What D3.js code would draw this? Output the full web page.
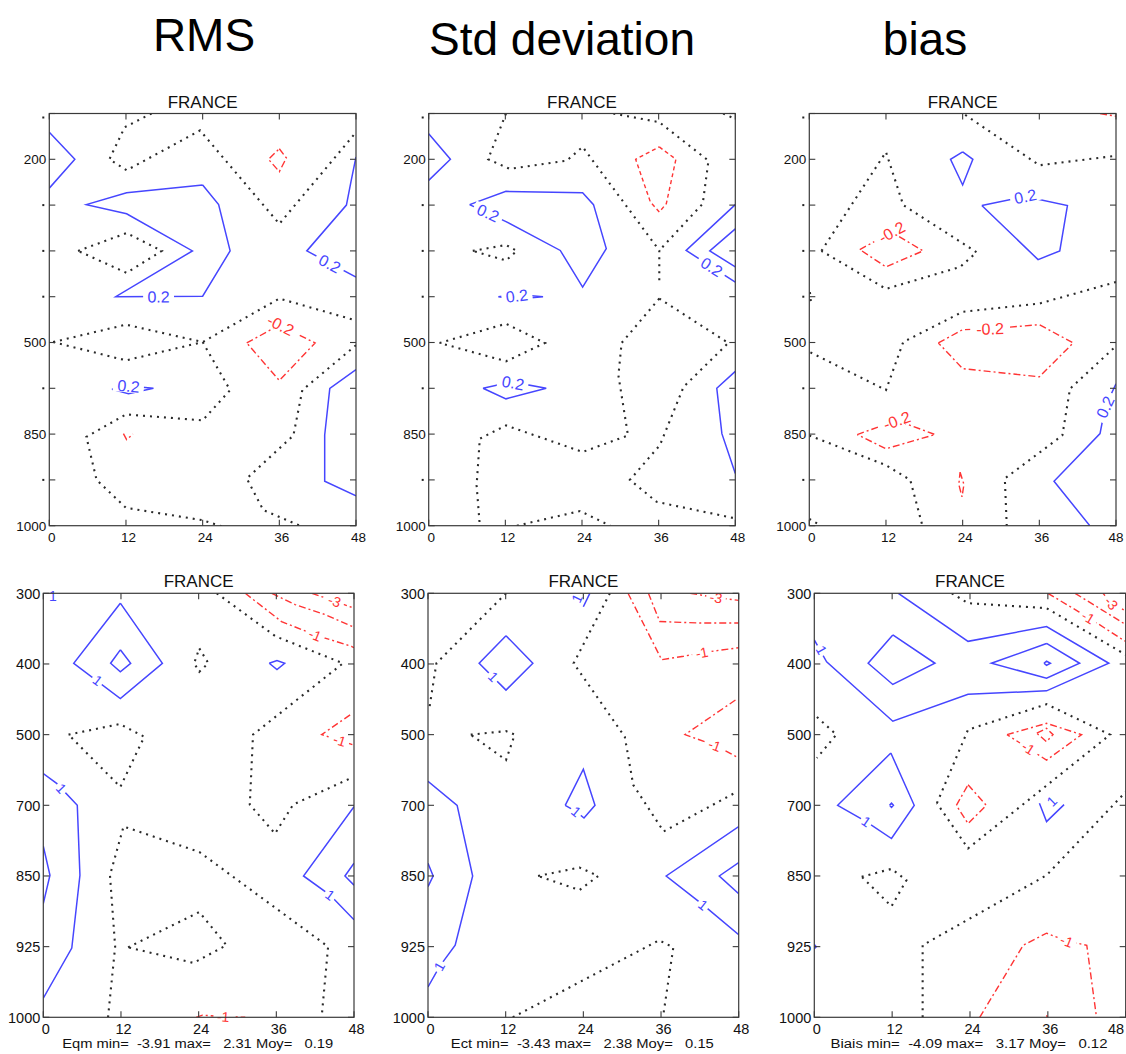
<!DOCTYPE html>
<html><head><meta charset="utf-8">
<script src="https://cdn.jsdelivr.net/npm/d3@7"></script>
<style>
body{margin:0;background:#fff}
svg{display:block}
text{font-family:"Liberation Sans",Arial,Helvetica,sans-serif}
</style>
</head><body>
<svg id="c" width="1126" height="1054"></svg>
<script>
// ---------------- DATA ----------------
// columns / titles
const columnTitles = ["RMS", "Std deviation", "bias"];
const panelTitle = "FRANCE";
const hourTicks = [0, 12, 24, 36, 48];
// upper row: 10 pressure levels (only some labelled), lower row: 7 levels
const upperTickLabels = ["", "200", "", "", "", "500", "", "850", "", "1000"];
const lowerTickLabels = ["300", "400", "500", "700", "850", "925", "1000"];
const statLines = [
  "Eqm min=  -3.91 max=   2.31 Moy=   0.19",
  "Ect min=  -3.43 max=   2.38 Moy=   0.15",
  "Biais min=  -4.09 max=   3.17 Moy=   0.12"
];
// contour polylines: [forecast hour, level index]
// ---- RMS, upper (contour +0.2 / -0.2 / 0)
const rmsUpPos = [
  [[0,0.41],[4,1.0],[0,1.63]],
  [[24,1.56],[26.5,1.99],[28.3,3.0],[24,3.99],[10.4,4.0],[22.4,3.0],[12.1,2.19],[5.8,1.99],[12.1,1.73],[24,1.56]],
  [[48,0.95],[47.2,1.5],[46.5,2.0],[40.3,3.0],[48,3.57]],
  [[9.8,6.02],[12.4,6.12],[16.3,6.0],[12.4,5.95],[9.8,6.02]],
  [[48,5.59],[43.9,6.0],[43.1,7.02],[43.1,8.03],[48,8.35]]
];
const rmsUpNeg = [
  [[36,0.77],[37.1,0.97],[36,1.27],[34.3,1.0],[36,0.77]],
  [[30.9,5.01],[36,4.62],[41.6,5.01],[36,5.83],[30.9,5.01]],
  [[11.6,6.99],[12.1,7.12],[13.1,7.0]]
];
const rmsUpZero = [
  [[16,0.0],[11.8,0.3],[9.4,1.0],[12.1,1.24],[23.6,0.37],[36,2.41],[48,0.41]],
  [[4.5,3.0],[12.1,2.61],[17.6,3.0],[12.1,3.48],[4.5,3.0]],
  [[0.6,4.99],[12,4.61],[24,4.99],[36,4.04],[48,4.52]],
  [[0.6,4.99],[12,5.39],[24,4.99],[28.3,6.04],[24,6.7],[12,6.57],[5.8,7.06],[7.4,8.0],[12,8.61],[24,8.88],[27.8,9.05]],
  [[48,5.06],[39.6,6.04],[38.2,7.03],[30.9,7.97],[33.5,8.66],[39.2,9.0]]
];
const rmsUpLabels = [["0.2",17.1,4.0],["0.2",43.9,3.28],["0.2",12.4,5.95],["-0.2",36.2,4.62]];
// ---- Std deviation, upper
const stdUpPos = [
  [[0,0.44],[3.4,1.0],[0,1.46]],
  [[6.4,1.99],[12.1,1.70],[24.1,1.73],[25.8,1.99],[27.8,2.95],[24.1,3.79],[20.6,2.99],[12.1,2.36],[6.4,1.99]],
  [[48,1.99],[40.3,2.99],[48,3.68]],
  [[48,2.52],[44,3.0],[48,3.35]],
  [[10.9,4.0],[13.8,4.05],[17.9,4.0],[13.8,3.95],[10.9,4.0]],
  [[8.5,6.0],[12.1,6.23],[18.4,6.0],[13,5.86],[8.5,6.0]],
  [[48,5.63],[45.1,6.0],[45.9,6.99],[48,7.86]]
];
const stdUpNeg = [
  [[36.1,0.73],[38.7,1.0],[37.2,1.97],[36.1,2.15],[34.7,1.93],[32.4,1.0],[36.1,0.73]]
];
const stdUpZero = [
  [[12.1,0.0],[9.3,1.0],[12.7,1.21],[21.6,1.03],[24.1,0.73],[36.1,2.99],[36.1,3.68]],
  [[28.9,0.0],[36.1,0.19],[43.8,1.03],[42.9,1.97],[36.1,2.99]],
  [[46.1,0.0],[48,0.12]],
  [[6.9,3.0],[12.1,2.87],[13.8,3.0],[12.1,3.21],[6.9,3.0]],
  [[1.7,5.01],[12.1,4.59],[18.2,5.01],[12.1,5.41],[1.7,5.01]],
  [[36.1,4.04],[30.2,5.01],[29.7,5.72],[31.2,7.03],[24.1,7.39],[12.1,6.81],[8,7.1],[7.5,8.12],[8,9.0]],
  [[36.1,4.04],[46.9,5.01],[39.9,5.97],[36.2,7.24],[31.5,8.0],[35.7,8.48],[48,8.84]],
  [[13.8,9.0],[23.7,8.68],[28.4,9.0]]
];
const stdUpLabels = [["0.2",9.3,2.17],["0.2",44.3,3.35],["0.2",13.8,3.98],["0.2",13.2,5.88]];
// ---- Bias, upper
const biasUpPos = [
  [[24,0.84],[25.6,1.0],[24,1.56],[22.1,1.0],[24,0.84]],
  [[27,2.01],[33.8,1.81],[40.4,2.01],[39.2,3.0],[35.8,3.19],[27,2.01]],
  [[48,5.9],[46.3,6.41],[45.5,6.99],[38.3,8.03],[43.9,9.0]]
];
const biasUpNeg = [
  [[45.5,0.0],[48,0.06]],
  [[7.9,2.97],[12.9,2.59],[17.8,3.0],[12,3.35],[7.9,2.97]],
  [[20.2,5.01],[24,4.72],[28.3,4.7],[36,4.61],[41.3,5.01],[36,5.75],[24,5.57],[20.2,5.01]],
  [[7.5,7.01],[13.7,6.7],[19.7,7.01],[12,7.32],[7.5,7.01]],
  [[23.6,7.83],[24.2,8.1],[23.9,8.37],[23.4,8.1],[23.6,7.83]]
];
const biasUpZero = [
  [[24.4,0.03],[36,1.13],[47.6,0.93],[48,0.93]],
  [[1.9,3.0],[12,0.84],[14.7,2.0],[26.2,3.03],[23.6,3.35],[12,3.83],[1.9,3.0]],
  [[48,3.68],[36,4.15],[24,4.33],[14.7,4.99],[12,6.04],[0.1,5.21]],
  [[0,7.03],[12,7.68],[15.8,8.0],[17.7,9.0]],
  [[47.6,5.13],[40.8,6.01],[39.6,7.03],[30.6,7.97],[30.9,9.0]],
  [[0,8.85],[1.8,9.0]],
  [[0.1,3.9],[0.3,4.2]]
];
const biasUpLabels = [["0.2",33.8,1.81],["0.2",46.3,6.41],["-0.2",12.9,2.59],["-0.2",28.3,4.7],["-0.2",13.7,6.7]];
// ---- RMS, lower (contour +1 / -1,-2,-3 / 0)
const rmsLowPos = [
  [[11.9,0.14],[18.4,0.99],[11.9,1.49],[4.7,0.99],[11.9,0.14]],
  [[11.9,0.8],[13.5,0.99],[11.9,1.11],[10.4,0.99],[11.9,0.8]],
  [[34.9,0.99],[36.1,0.95],[37.3,0.99],[36.1,1.08],[34.9,0.99]],
  [[0,2.55],[2.06,2.69],[5.25,3.0],[5.66,3.99],[4.4,5.02],[0,5.73]],
  [[0,3.58],[1.03,3.99],[0,4.39]],
  [[48,3.02],[40.2,4.0],[44.3,4.27],[48,4.62]],
  [[48,3.82],[46.6,4.0],[48,4.13]],
  [[0.5,0.0],[2.5,0.0]]
];
const rmsLowNeg = [
  [[31.2,0],[36.8,0.4],[42,0.59],[47.6,0.75],[48,0.77]],
  [[35.3,0],[38.9,0.16],[43.5,0.3],[48,0.48]],
  [[41.5,0],[45,0.11],[48,0.21]],
  [[47.4,1.72],[43,2.0],[45.8,2.08],[48,2.15]],
  [[23.6,6.0],[24.6,5.97],[27.8,5.99],[31.2,6.0]]
];
const rmsLowZero = [
  [[26.8,0],[35.9,0.61],[46.3,0.99],[32.4,2.0],[31.9,2.99],[35.8,3.4],[38.6,2.99],[47.4,2.62]],
  [[24.1,0.78],[25.5,0.99],[24.1,1.11],[23.3,0.99],[24.1,0.78]],
  [[3.9,2.0],[11.8,1.85],[15.6,2.03],[11.9,2.74],[3.9,2.0]],
  [[10.0,6.0],[11.1,5.0],[10.3,3.99],[12.4,3.3],[24.1,3.66],[44.0,5.0],[43.0,6.0]],
  [[13.1,5.01],[24.1,4.51],[28.3,4.98],[23.2,5.23],[13.1,5.01]]
];
const rmsLowLabels = [["1",1.5,0.04],["1",8.4,1.23],["1",2.8,2.76],["1",44.3,4.27],["-1",42,0.59],["-3",45,0.11],["-1",45.8,2.08],["-1",27.8,5.99]];
// ---- Std deviation, lower
const stdLowPos = [
  [[24,0.19],[25,0]],
  [[12.05,0.6],[16.2,0.99],[12.05,1.37],[7.9,0.99],[12.05,0.6]],
  [[21.2,3.0],[24,2.49],[25.8,3.0],[24.1,3.18],[22.9,3.09],[21.2,3.0]],
  [[0,2.66],[4.5,3.0],[6.9,4.0],[4.2,4.98],[1.8,5.28],[0,5.57]],
  [[0,3.82],[0.8,4.0],[0,4.15]],
  [[48,3.3],[36.8,4.0],[42.5,4.41],[48,4.83]],
  [[48,3.81],[45,4.0],[48,4.25]]
];
const stdLowNeg = [
  [[30.9,0],[36.1,0.94],[39.5,0.89],[42.3,0.84],[48,0.77]],
  [[34.05,0],[35.8,0.4],[42.0,0.42],[48,0.42]],
  [[40.5,0],[44.5,0.06],[48,0.1]],
  [[47.5,1.51],[39.7,2.0],[44.3,2.15],[48,2.33]]
];
const stdLowZero = [
  [[12.05,0],[1.3,0.99],[0.2,1.63]],
  [[28.1,0],[22.5,0.99],[30.4,2.03],[31.7,2.71],[36.4,3.37],[47.7,2.81]],
  [[6.6,2.0],[12.05,1.95],[13.4,2.0],[12.05,2.36],[6.6,2.0]],
  [[17,4.0],[23.4,3.88],[26.3,4.0],[23.4,4.2],[17,4.0]],
  [[13.1,6],[35.7,4.91],[37.9,5.01],[36.3,6]]
];
const stdLowLabels = [["1",23,0.07],["1",10.1,1.18],["1",22.9,3.09],["1",1.75,5.28],["1",42.5,4.41],["-1",42.3,0.84],["-3",44.5,0.06],["-1",44.3,2.15]];
// ---- Bias, lower
const biasLowPos = [
  [[12.95,0],[23.7,0.68],[35.8,0.47],[45.4,0.99],[35.8,1.38],[23.7,1.43],[12.1,1.81],[1.9,0.97],[0,0.66]],
  [[12.1,0.59],[18.6,0.99],[12.1,1.29],[8.3,0.99],[12.1,0.59]],
  [[35.8,0.71],[40.9,0.99],[35.8,1.2],[27.3,0.99],[35.8,0.71]],
  [[35.4,0.99],[35.8,0.96],[36.4,0.99],[35.8,1.02],[35.4,0.99]],
  [[11.8,2.26],[15.4,3.0],[11.9,3.47],[8,3.23],[3.6,3.0],[11.8,2.26]],
  [[11.6,3.0],[11.9,2.97],[12.2,3.0],[11.9,3.03],[11.6,3.0]],
  [[34.7,2.97],[35.8,3.23],[38.5,2.99]],
  [[0,4.97],[0.3,5.0],[0,5.03]]
];
const biasLowNeg = [
  [[36.0,0],[42.2,0.34],[47.6,0.66],[48,0.68]],
  [[40.2,0],[47.6,0.42],[48,0.44]],
  [[44.5,0],[45.8,0.14],[48,0.25]],
  [[29.7,2.0],[35.8,1.84],[41.2,2.0],[35.8,2.36],[29.7,2.0]],
  [[34.3,1.98],[35.8,1.91],[36.8,2.0],[35.8,2.1],[34.3,1.98]],
  [[23.7,2.71],[26.5,3.0],[23.7,3.26],[21.9,3.0],[23.7,2.71]],
  [[25.5,6],[32.2,4.98],[35.8,4.81],[38.9,4.92],[42.0,4.98],[43.5,6]],
  [[35.8,5.97],[35.9,6.0]]
];
const biasLowZero = [
  [[21.2,0],[23.7,0.14],[35.8,0.21],[48,0.87]],
  [[0.4,1.75],[3.4,2.0],[0.4,2.33]],
  [[18.9,2.97],[23.7,1.93],[35.8,1.57],[45.6,2.0],[23.7,3.61],[18.9,2.97]],
  [[7.3,4.01],[11.9,3.9],[14.2,4.06],[11.9,4.43],[7.3,4.01]],
  [[16.7,6],[16.7,4.98],[35.8,3.99],[48,2.81]]
];
const biasLowLabels = [["1",1.1,0.8],["1",8,3.23],["1",36.6,2.94],["-1",42.2,0.34],["-3",45.8,0.14],["-1",33,2.19],["-1",38.9,4.92]];

// ---------------- LAYOUT ----------------
const W = 1126;
const svg = d3.select("#c");
const BLUE = "#4646ff", RED = "#ff3434", DARK = "#2a2a2a";
const upperFrame = {y0: 113.5, y1: 525.7};
const lowerFrame = {y0: 593.3, y1: 1017.3};
const panels = [
  {x0:49.3,  x1:356,    f:upperFrame, ticks:upperTickLabels, pos:rmsUpPos,  neg:rmsUpNeg,  zero:rmsUpZero,  labels:rmsUpLabels,  negDash:"7,3,2,3", lab:16},
  {x0:428.7, x1:735.3,  f:upperFrame, ticks:upperTickLabels, pos:stdUpPos,  neg:stdUpNeg,  zero:stdUpZero,  labels:stdUpLabels,  negDash:"4,3", lab:16},
  {x0:809.3, x1:1116,   f:upperFrame, ticks:upperTickLabels, pos:biasUpPos, neg:biasUpNeg, zero:biasUpZero, labels:biasUpLabels, negDash:"7,3,2,3", lab:16},
  {x0:43.3,  x1:354,    f:lowerFrame, ticks:lowerTickLabels, pos:rmsLowPos, neg:rmsLowNeg, zero:rmsLowZero, labels:rmsLowLabels, negDash:"7,3,2,3", lab:14, stat:0},
  {x0:428,   x1:738.7,  f:lowerFrame, ticks:lowerTickLabels, pos:stdLowPos, neg:stdLowNeg, zero:stdLowZero, labels:stdLowLabels, negDash:"7,3,2,3", lab:14, stat:1},
  {x0:814.3, x1:1125.7, f:lowerFrame, ticks:lowerTickLabels, pos:biasLowPos,neg:biasLowNeg,zero:biasLowZero,labels:biasLowLabels,negDash:"7,3,2,3", lab:14, stat:2}
];

// column titles
const titleX = [204, 562, 925], titleY = [51, 55, 55];
svg.selectAll("text.coltitle").data(columnTitles).join("text")
  .attr("class","coltitle")
  .attr("x",(d,i)=>titleX[i]).attr("y",(d,i)=>titleY[i])
  .attr("text-anchor","middle").attr("font-size",46).attr("fill","#000")
  .text(d=>d);

panels.forEach((p, pi) => {
  const upper = p.f === upperFrame;
  const nLev = p.ticks.length;
  const sx = d3.scaleLinear().domain([0,48]).range([p.x0, p.x1]);
  const sy = d3.scaleLinear().domain([0, nLev-1]).range([p.f.y0, p.f.y1]);
  const g = svg.append("g");
  const clipId = "clip"+pi;
  svg.append("clipPath").attr("id",clipId).append("rect")
    .attr("x",p.x0).attr("y",p.f.y0).attr("width",p.x1-p.x0).attr("height",p.f.y1-p.f.y0);
  const cg = g.append("g").attr("clip-path","url(#"+clipId+")");
  const labG = g.append("g");
  const line = d3.line().x(d=>sx(d[0])).y(d=>sy(d[1]));

  cg.selectAll("path.zero").data(p.zero).join("path").attr("class","zero")
    .attr("d",line).attr("fill","none").attr("stroke",DARK)
    .attr("stroke-width",2.1).attr("stroke-dasharray","2,5");
  cg.selectAll("path.pos").data(p.pos).join("path").attr("class","pos")
    .attr("d",line).attr("fill","none").attr("stroke",BLUE).attr("stroke-width",1.5);
  cg.selectAll("path.neg").data(p.neg).join("path").attr("class","neg")
    .attr("d",line).attr("fill","none").attr("stroke",RED).attr("stroke-width",1.4)
    .attr("stroke-dasharray",p.negDash);

  // contour labels: rotated along nearest segment
  p.labels.forEach(L => {
    const [t, h, lv] = L;
    const neg = t.startsWith("-");
    const set = neg ? p.neg : p.pos;
    const px = sx(h), py = sy(lv);
    let best = Infinity, ang = 0;
    set.forEach(pl => {
      for (let k=0;k<pl.length-1;k++){
        const ax=sx(pl[k][0]), ay=sy(pl[k][1]), bx=sx(pl[k+1][0]), by=sy(pl[k+1][1]);
        const dx=bx-ax, dy=by-ay, l2=dx*dx+dy*dy;
        if (l2===0) continue;
        let u=((px-ax)*dx+(py-ay)*dy)/l2; u=Math.max(0,Math.min(1,u));
        const qx=ax+u*dx-px, qy=ay+u*dy-py, dd=qx*qx+qy*qy;
        if (dd<best){best=dd; ang=Math.atan2(dy,dx)*180/Math.PI;}
      }
    });
    if (ang>90) ang-=180; if (ang<-90) ang+=180;
    const fs = p.lab;
    const w = t.length*fs*0.56+4, hgt = fs*0.8;
    const lg = labG.append("g").attr("transform",`translate(${px},${py}) rotate(${ang})`);
    lg.append("rect").attr("x",-w/2).attr("y",-hgt/2).attr("width",w).attr("height",hgt).attr("fill","#fff");
    lg.append("text").attr("text-anchor","middle").attr("dy","0.36em")
      .attr("font-size",fs).attr("fill",neg?RED:BLUE).text(t);
  });

  // frame
  g.append("rect").attr("x",p.x0).attr("y",p.f.y0).attr("width",p.x1-p.x0).attr("height",p.f.y1-p.f.y0)
    .attr("fill","none").attr("stroke","#3a3a3a").attr("stroke-width",1.2);
  // y ticks (inside, both sides)
  const yIdx = d3.range(nLev);
  g.selectAll("line.yt").data(yIdx).join("line").attr("class","yt")
    .attr("x1",p.x0).attr("x2",p.x0+6).attr("y1",d=>sy(d)).attr("y2",d=>sy(d))
    .attr("stroke","#3a3a3a").attr("stroke-width",1.1);
  g.selectAll("line.yt2").data(yIdx).join("line").attr("class","yt2")
    .attr("x1",p.x1-6).attr("x2",p.x1).attr("y1",d=>sy(d)).attr("y2",d=>sy(d))
    .attr("stroke","#3a3a3a").attr("stroke-width",1.1);
  // x ticks top & bottom
  g.selectAll("line.xt").data(hourTicks).join("line").attr("class","xt")
    .attr("x1",d=>sx(d)).attr("x2",d=>sx(d)).attr("y1",p.f.y0).attr("y2",p.f.y0+6)
    .attr("stroke","#3a3a3a").attr("stroke-width",1.1);
  g.selectAll("line.xb").data(hourTicks).join("line").attr("class","xb")
    .attr("x1",d=>sx(d)).attr("x2",d=>sx(d)).attr("y1",p.f.y1-6).attr("y2",p.f.y1)
    .attr("stroke","#3a3a3a").attr("stroke-width",1.1);
  // y tick labels
  const tfs = upper ? 13.5 : 14.5;
  g.selectAll("text.yl").data(p.ticks).join("text").attr("class","yl")
    .attr("x",p.x0-3).attr("y",(d,i)=>sy(i)).attr("dy","0.36em")
    .attr("text-anchor","end").attr("font-size",tfs).attr("fill","#111")
    .text(d=>d);
  if (upper) {
    g.selectAll("rect.dot").data(yIdx.filter(i=>p.ticks[i]==="")).join("rect").attr("class","dot")
      .attr("x",p.x0-7).attr("y",i=>sy(i)-1+(i===0?4:0)).attr("width",2).attr("height",2).attr("fill","#222");
  }
  // x tick labels (kept inside the picture)
  g.selectAll("text.xl").data(hourTicks).join("text").attr("class","xl")
    .attr("x",d=>Math.min(sx(d)+2.5, W-10)).attr("y",upper?542:1034)
    .attr("text-anchor","middle").attr("font-size",tfs).attr("fill","#111")
    .text(d=>d);
  // panel title
  g.append("text").attr("x",(p.x0+p.x1)/2).attr("y",upper?107.5:586.5)
    .attr("text-anchor","middle").attr("font-size",17).attr("fill","#111").text(panelTitle);
  // statistics line
  if (p.stat !== undefined) {
    const widths = [271, 263, 277];
    g.append("text").attr("x",(p.x0+p.x1)/2 - 1).attr("y",1048)
      .attr("text-anchor","middle").attr("font-size",12).attr("fill","#111")
      .attr("xml:space","preserve").style("white-space","pre")
      .attr("textLength",widths[p.stat]).attr("lengthAdjust","spacingAndGlyphs")
      .text(statLines[p.stat]);
  }
});
</script>
</body></html>
